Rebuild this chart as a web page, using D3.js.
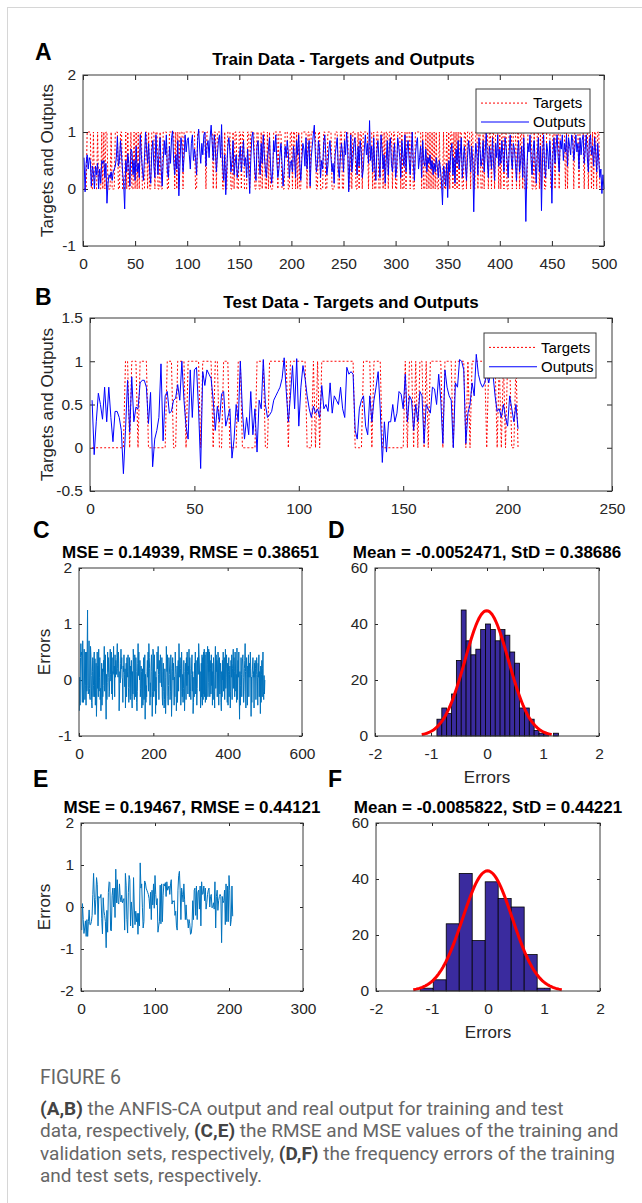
<!DOCTYPE html>
<html><head><meta charset="utf-8">
<script src="https://cdn.jsdelivr.net/npm/d3@7"></script>
<style>
body{margin:0;background:#fff}
svg{display:block}
.ax text{font-family:"Liberation Sans",Arial,sans-serif;font-size:15.5px;fill:#262626}
.ax line{stroke:#262626}
.ttl{font-family:"Liberation Sans",Arial,sans-serif;font-size:17px;font-weight:bold;fill:#000}
.lab{font-family:"Liberation Sans",Arial,sans-serif;font-size:17px;fill:#262626}
.let{font-family:"Liberation Sans",Arial,sans-serif;font-size:23px;font-weight:bold;fill:#000}
.leg{font-family:"Liberation Sans",Arial,sans-serif;font-size:15px;fill:#000}
.cap{font-family:Roboto,"Open Sans",sans-serif;font-size:19px;fill:#666}
</style></head><body>
<svg id="fig" width="642" height="1203"></svg>
<script>
// ---- data ----
const trainTargets = (
  '00011110010001000101011000100011100110001010010010' +
  '10101100011010011101100100111100111110101011101111' +
  '11111110011111111011111101101111100100111001011001' +
  '10110001101111001100101100101000111101110001110011' +
  '01101010011111011011111001100011001111000111001100' +
  '11110010111001011011111011101001100110101101110110' +
  '01110100101110110011111101001010101010100100010010' +
  '10110101010110011011101100110110010111011011011101' +
  '01101100111011101101101000111100100110101100111100' +
  '11011101111101011111011110111101110110101101100000'
).split('').map(Number);

const trainOutputs = [
  0.55,-0.05,0.45,0.6,0.35,0.55,0.5,0.05,0.4,0.3, 0.0,0.4,0.25,0.45,0.0,0.35,0.1,0.5,0.45,0.5,
  0.2,0.45,-0.25,0.1,0.25,0.2,0.3,0.15,0.3,0.35, 0.4,0.55,0.92,0.4,0.5,0.85,0.6,0.3,0.1,-0.35,
  0.5,0.3,0.62,0.45,0.05,0.7,0.65,0.25,0.5,0.15,
  0.75,0.3,0.45,0.2,0.95,0.6,0.35,0.15,0.55,1.0, 0.7,0.45,0.8,0.3,0.1,0.65,0.85,0.4,0.2,0.95,
  0.55,0.25,0.7,0.9,0.35,0.05,0.5,0.85,0.6,0.95, 0.3,0.2,0.75,0.45,0.9,1.02,0.5,0.25,0.6,0.35,
  0.85,-0.12,0.4,0.9,0.75,0.3,0.55,0.95,0.65,0.85,
  0.9,0.6,0.35,0.8,0.95,0.5,0.7,0.55,0.25,0.85, 1.05,0.7,0.45,0.8,0.6,0.95,1.0,0.4,0.75,0.85,
  0.55,0.9,1.12,0.8,0.5,0.95,0.7,0.3,0.6,0.85, 0.95,0.55,1.13,0.4,0.15,0.6,-0.1,0.35,0.75,0.9,
  0.65,0.3,0.5,0.85,0.25,0.45,0.6,0.2,0.35,0.55,
  0.75,0.3,0.6,0.85,0.4,0.55,0.2,0.7,0.35,-0.08, 0.5,0.9,1.0,0.65,0.3,0.15,0.75,0.85,0.5,0.25,
  0.8,0.45,0.95,0.6,0.35,0.2,0.55,0.7,0.9,0.4, 0.1,0.3,0.85,0.65,0.95,0.5,0.2,0.35,0.6,0.8,
  0.45,0.05,0.3,0.75,0.55,0.85,0.65,0.2,0.45,0.5,
  0.3,0.75,0.55,0.2,0.85,0.6,0.95,0.45,0.15,0.5, 0.8,0.7,0.4,0.9,0.35,0.65,0.85,0.05,0.55,0.75,
  0.95,1.12,0.6,0.3,0.45,0.85,0.7,0.2,0.5,0.35, 0.8,0.95,0.6,0.25,0.4,0.7,0.85,0.55,0.3,0.45,
  0.1,0.6,0.75,0.9,0.35,0.2,0.55,0.8,0.65,0.3,
  0.85,0.6,1.0,0.7,-0.05,0.45,0.95,0.3,0.5,0.8, 0.9,0.55,0.25,0.75,0.4,0.85,0.65,0.2,0.35,0.7,
  0.95,0.6,0.8,0.45,1.2,0.5,0.75,0.3,0.9,0.4, 0.15,0.65,0.85,0.55,0.2,0.95,0.7,0.35,0.6,0.1,
  0.5,0.85,0.25,0.75,0.9,0.45,0.3,0.6,0.8,0.2,
  0.35,0.9,0.75,0.55,0.2,0.85,0.6,0.4,0.95,0.3, 0.7,0.85,0.5,0.25,0.65,1.0,0.45,0.15,0.6,0.8,
  0.9,0.35,0.55,0.75,0.2,0.85,0.5,0.4,0.7,0.3, 0.55,0.45,0.6,0.35,0.5,0.25,0.45,0.3,0.55,0.4,
  0.2,0.5,0.35,0.15,-0.28,0.4,0.3,0.05,0.45,-0.15,
  0.5,0.3,0.65,0.8,0.25,0.55,0.1,0.7,0.45,0.85, 0.35,0.6,0.9,0.2,0.5,0.75,0.4,0.15,0.55,0.85,
  0.65,0.3,0.75,0.5,-0.4,0.45,0.8,0.6,0.25,0.9, 0.7,0.4,0.55,0.85,0.3,0.65,1.0,0.5,0.2,0.75,
  0.6,0.35,0.9,0.45,0.15,0.8,0.55,0.95,0.4,0.7,
  0.45,0.85,0.6,0.3,0.9,0.75,0.5,0.2,0.65,0.95, 0.55,0.35,0.8,0.7,0.45,0.15,0.6,0.85,0.3,0.5,
  0.75,0.2,0.9,0.4,-0.57,0.35,0.8,0.65,0.95,0.5, 0.25,0.7,0.85,0.45,0.1,0.6,0.9,0.3,0.75,-0.38,
  0.55,0.95,0.4,0.2,0.8,0.65,0.35,0.85,0.5,-0.25,
  0.6,0.9,0.45,0.75,0.95,0.55,0.3,0.85,0.7,0.95, 0.5,0.8,0.65,0.95,0.4,0.9,0.75,0.6,0.95,0.85,
  0.5,0.7,0.95,0.65,0.8,0.35,0.9,0.6,0.85,0.95, 0.45,0.7,0.95,0.55,0.3,0.85,0.95,0.6,0.75,0.4,
  0.9,0.65,0.3,0.8,0.5,0.2,0.35,-0.08,0.25,0.0
];

const testTargets = (
  '0000000000' + '0000001101' + '1101111000' + '0000001110' + '0111101111' +
  '1101111101' + '1001110000' + '1100000001' + '1110011111' + '1111011111' +
  '1110001010' + '1111111111' + '1111110000' + '1111011110' + '0000000000' +
  '1011010110' + '1011111101' + '1110111110' + '1011111110' + '1111010101' +
  '10010'
).split('').map(Number);

const testOutputs = [
  0.55,-0.08,0.3,0.63,0.5,0.33,0.7,0.3,0.7,0.35, 0.07,0.42,0.42,0.35,0.2,-0.3,0.2,0.78,0.18,0.82,
  0.3,0.47,0.45,0.75,0.78,0.78,0.7,0.28,0.64,-0.22, 0.1,0.2,0.35,0.97,0.08,0.6,0.65,0.4,0.42,0.55,
  0.57,0.73,0.55,1.0,0.55,0.25,0.1,0.9,0.35,0.9, 0.93,0.45,-0.24,0.88,0.72,0.9,0.85,0.8,0.55,0.2,
  0.48,0.3,0.62,0.65,0.25,0.35,0.45,-0.12,0.1,0.5, 0.3,1.0,0.42,0.1,0.35,0.15,0.65,0.15,0.45,-0.05,
  0.55,0.45,1.02,0.5,0.35,0.38,0.42,0.55,0.6,0.65, 0.7,0.8,1.04,0.65,0.3,0.6,0.95,0.45,1.03,0.25,
  0.7,0.95,0.8,0.6,0.45,0.35,0.48,0.4,0.45,0.35, 0.72,0.45,0.5,0.42,0.75,0.4,0.6,0.55,0.5,0.7,
  0.45,0.35,0.93,0.85,0.88,0.85,0.2,0.1,0.45,0.55, 0.6,0.25,0.15,0.6,0.3,0.55,0.7,0.88,0.45,-0.17,
  0.3,-0.05,0.3,0.3,0.5,0.3,0.4,0.65,0.62,0.45, 0.85,0.3,0.6,0.55,0.2,0.5,0.3,0.65,0.6,0.05,
  0.5,0.45,0.4,0.7,0.68,0.5,0.85,0.55,0.05,0.9, 0.7,0.6,0.55,0.0,0.75,0.7,1.02,1.0,0.9,0.05,
  0.4,0.5,0.75,0.6,1.08,0.85,0.75,0.7,0.75,0.85, 0.75,0.9,0.85,0.6,0.42,0.45,0.35,0.5,0.35,0.25,
  0.6,0.45,0.3,0.5,0.22
];

// errors = targets - outputs, as in the ANFIS script
const trainErrors = trainOutputs.map((v, i) => trainTargets[i] - v);
const testErrors = testOutputs.map((v, i) => testTargets[i] - v);

// histogram counts (histfit) and the fitted normal stats from the titles
const trainBinStart = -0.894, trainBinWidth = 0.0868;
const trainCounts = [6,10,8,15,27,45,34,29,31,38,40,38,34,38,36,30,26,10,10,6,2,1,1,0,1];
const trainMean = -0.0052471, trainStd = 0.38686, trainN = 500;
const testBinStart = -1.21, testBinWidth = 0.232;
const testCounts = [1,4,24,42,18,39,33,30,13,1];
const testMean = -0.0085822, testStd = 0.44221, testN = 205;

const ticksA = {x: d3.range(0, 501, 50), y: [-1, 0, 1, 2]};
const ticksB = {x: d3.range(0, 251, 50), y: [-0.5, 0, 0.5, 1, 1.5]};
const ticksC = {x: [0, 200, 400, 600], y: [-1, 0, 1, 2]};
const ticksE = {x: [0, 100, 200, 300], y: [-2, -1, 0, 1, 2]};
const ticksHist = {x: [-2, -1, 0, 1, 2], y: [0, 20, 40, 60]};

// ---- drawing ----
const svg = d3.select('#fig');
const AX = '#3a3a3a';

// page card border
svg.append('line').attr('x1', 7).attr('x2', 642).attr('y1', 7.5).attr('y2', 7.5).attr('stroke', '#d6d6d6');
svg.append('line').attr('x1', 7.5).attr('x2', 7.5).attr('y1', 7).attr('y2', 1203).attr('stroke', '#d6d6d6');

function panel(o) {
  const x = d3.scaleLinear().domain(o.xd).range([o.l, o.r]);
  const y = d3.scaleLinear().domain(o.yd).range([o.b, o.t]);
  const g = svg.append('g');
  const fmt = d => String(d);
  const tk = o.tk;
  g.append('g').attr('class', 'ax').attr('transform', `translate(0,${o.b})`)
    .call(d3.axisBottom(x).tickValues(o.xt).tickFormat(fmt).tickSizeInner(-tk).tickSizeOuter(0).tickPadding(12));
  g.append('g').attr('class', 'ax').attr('transform', `translate(0,${o.t})`)
    .call(d3.axisTop(x).tickValues(o.xt).tickFormat('').tickSizeInner(-tk).tickSizeOuter(0));
  g.append('g').attr('class', 'ax').attr('transform', `translate(${o.l},0)`)
    .call(d3.axisLeft(y).tickValues(o.yt).tickFormat(fmt).tickSizeInner(-tk).tickSizeOuter(0).tickPadding(7));
  g.append('g').attr('class', 'ax').attr('transform', `translate(${o.r},0)`)
    .call(d3.axisRight(y).tickValues(o.yt).tickFormat('').tickSizeInner(-tk).tickSizeOuter(0));
  g.selectAll('.domain').remove();
  const data = g.append('g');
  g.append('rect').attr('x', o.l).attr('y', o.t).attr('width', o.r - o.l).attr('height', o.b - o.t)
    .attr('fill', 'none').attr('stroke', AX).attr('stroke-width', 1);
  // title, letter, axis labels
  svg.append('text').attr('class', 'ttl').attr('x', (o.l + o.r) / 2).attr('y', o.t - 10.5)
    .attr('text-anchor', 'middle').text(o.title);
  svg.append('text').attr('class', 'let').attr('x', o.letX).attr('y', o.letY).text(o.letter);
  if (o.ylab) svg.append('text').attr('class', 'lab')
    .attr('transform', `translate(${o.ylabX},${(o.t + o.b) / 2}) rotate(-90)`)
    .attr('text-anchor', 'middle').text(o.ylab);
  if (o.xlab) svg.append('text').attr('class', 'lab').attr('x', (o.l + o.r) / 2).attr('y', o.b + 46.5)
    .attr('text-anchor', 'middle').text(o.xlab);
  return {x, y, data, g};
}

function series(p, vals, color, dash) {
  const line = d3.line().x((d, i) => p.x(i + 1)).y(d => p.y(d));
  p.data.append('path').attr('d', line(vals)).attr('fill', 'none')
    .attr('stroke', color).attr('stroke-width', 1)
    .attr('stroke-dasharray', dash || null);
}

function legend(p, bx, by, w, h, rows) {
  const lg = p.g.append('g');
  lg.append('rect').attr('x', bx).attr('y', by).attr('width', w).attr('height', h)
    .attr('fill', '#fff').attr('stroke', AX);
  rows.forEach((r, i) => {
    const cy = by + h * (i === 0 ? 0.32 : 0.75);
    lg.append('line').attr('x1', bx + 5).attr('x2', bx + 53).attr('y1', cy).attr('y2', cy)
      .attr('stroke', r.color).attr('stroke-width', 1).attr('stroke-dasharray', r.dash || null);
    lg.append('text').attr('class', 'leg').attr('x', bx + 57).attr('y', cy + 5.3).text(r.name);
  });
}

function histo(p, start, width, counts, mean, sd, n) {
  p.data.selectAll('rect').data(counts).join('rect')
    .attr('x', (d, i) => p.x(start + i * width))
    .attr('width', (d, i) => p.x(start + (i + 1) * width) - p.x(start + i * width))
    .attr('y', d => p.y(d)).attr('height', d => p.y(0) - p.y(d))
    .attr('fill', '#3a2b9e').attr('stroke', '#000').attr('stroke-width', 0.8)
    .style('display', d => d > 0 ? null : 'none');
  // fitted normal, scaled to counts, over mean +/- 3 sd
  const xs = d3.range(0, 101).map(k => mean - 3 * sd + k * 6 * sd / 100);
  const pdf = v => n * width * Math.exp(-0.5 * ((v - mean) / sd) ** 2) / (sd * Math.sqrt(2 * Math.PI));
  p.data.append('path').attr('d', d3.line().x(v => p.x(v)).y(v => p.y(pdf(v)))(xs))
    .attr('fill', 'none').attr('stroke', '#ff0000').attr('stroke-width', 3);
}

// A
const pA = panel({l: 83, r: 604, t: 75, b: 246, xd: [0, 500], yd: [-1, 2], xt: ticksA.x, yt: ticksA.y, tk: 5,
  title: 'Train Data - Targets and Outputs', letter: 'A', letX: 35, letY: 60,
  ylab: 'Targets and Outputs', ylabX: 53});
series(pA, trainTargets, '#ff0000', '2,2');
series(pA, trainOutputs, '#0000ff');
legend(pA, 476, 89, 114, 44, [{name: 'Targets', color: '#ff0000', dash: '2,2'}, {name: 'Outputs', color: '#0000ff'}]);

// B
const pB = panel({l: 90, r: 612, t: 318, b: 491, xd: [0, 250], yd: [-0.5, 1.5], xt: ticksB.x, yt: ticksB.y, tk: 5,
  title: 'Test Data - Targets and Outputs', letter: 'B', letX: 35, letY: 305,
  ylab: 'Targets and Outputs', ylabX: 53});
series(pB, testTargets, '#ff0000', '2,2');
series(pB, testOutputs, '#0000ff');
legend(pB, 484, 333, 112, 45, [{name: 'Targets', color: '#ff0000', dash: '2,2'}, {name: 'Outputs', color: '#0000ff'}]);

// C
const pC = panel({l: 79, r: 302, t: 568, b: 736, xd: [0, 600], yd: [-1, 2], xt: ticksC.x, yt: ticksC.y, tk: 3,
  title: 'MSE = 0.14939, RMSE = 0.38651', letter: 'C', letX: 33, letY: 538,
  ylab: 'Errors', ylabX: 50});
series(pC, trainErrors, '#0072bd');

// D
const pD = panel({l: 375, r: 599, t: 568, b: 736, xd: [-2, 2], yd: [0, 60], xt: ticksHist.x, yt: ticksHist.y, tk: 3,
  title: 'Mean = -0.0052471, StD = 0.38686', letter: 'D', letX: 328, letY: 538, xlab: 'Errors'});
histo(pD, trainBinStart, trainBinWidth, trainCounts, trainMean, trainStd, trainN);

// E
const pE = panel({l: 81, r: 303, t: 823, b: 991, xd: [0, 300], yd: [-2, 2], xt: ticksE.x, yt: ticksE.y, tk: 3,
  title: 'MSE = 0.19467, RMSE = 0.44121', letter: 'E', letX: 33, letY: 787,
  ylab: 'Errors', ylabX: 50});
series(pE, testErrors, '#0072bd');

// F
const pF = panel({l: 376, r: 600, t: 823, b: 991, xd: [-2, 2], yd: [0, 60], xt: ticksHist.x, yt: ticksHist.y, tk: 3,
  title: 'Mean = -0.0085822, StD = 0.44221', letter: 'F', letX: 328, letY: 787, xlab: 'Errors'});
histo(pF, testBinStart, testBinWidth, testCounts, testMean, testStd, testN);

// caption
svg.append('text').attr('class', 'cap').attr('x', 40).attr('y', 1084)
  .attr('fill', '#555').style('font-size', '19.5px').text('FIGURE 6');
const capLines = [
  [['(A,B)', 1], [' the ANFIS-CA output and real output for training and test', 0]],
  [['data, respectively, ', 0], ['(C,E)', 1], [' the RMSE and MSE values of the training and', 0]],
  [['validation sets, respectively, ', 0], ['(D,F)', 1], [' the frequency errors of the training', 0]],
  [['and test sets, respectively.', 0]]
];
capLines.forEach((ln, i) => {
  const t = svg.append('text').attr('class', 'cap').attr('x', 40).attr('y', 1114.5 + i * 22.5);
  ln.forEach(([s, b]) => t.append('tspan').text(s)
    .attr('font-weight', b ? 'bold' : null).attr('fill', b ? '#444' : null));
});
</script>
</body></html>
